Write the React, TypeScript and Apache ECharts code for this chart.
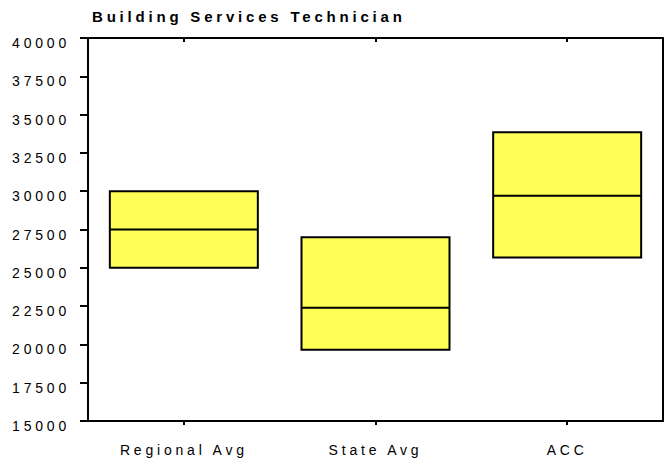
import React, { useEffect, useRef } from "react";
import * as echarts from "echarts";

const title = "Building Services Technician";
const categories = ["Regional Avg", "State Avg", "ACC"];
const lowValues = [25000, 19650, 25670];
const medianValues = [27500, 22400, 29700];
const highValues = [30000, 27000, 33850];
const yMin = 15000;
const yMax = 40000;
const yStep = 2500;

export default function App() {
  const ref = useRef<HTMLDivElement>(null);
  useEffect(() => {
    document.body.style.margin = "0";
    const chart = echarts.init(ref.current!, null, { renderer: "svg" });
    const font = "'Liberation Sans', Arial, sans-serif";
    const boxData = categories.map((_, i) => [
      lowValues[i],
      lowValues[i],
      medianValues[i],
      highValues[i],
      highValues[i],
    ]);
    const axisLine = { show: true, lineStyle: { color: "#000", width: 2 } };
    chart.setOption({
      animation: false,
      backgroundColor: "#fff",
      title: {
        text: title,
        left: 87,
        top: 4,
        textStyle: { fontFamily: font, fontSize: 15, fontWeight: "bold", color: "#000" },
      },
      grid: { left: 88, right: 2, top: 38, bottom: 43, containLabel: false },
      xAxis: [
        {
          type: "category",
          data: categories,
          position: "bottom",
          axisLine,
          axisTick: { show: true, alignWithLabel: true, length: 4, lineStyle: { color: "#000", width: 2 } },
          axisLabel: { color: "#000", fontFamily: font, fontSize: 14, margin: 22 },
          splitLine: { show: false },
        },
        {
          type: "category",
          data: categories,
          position: "top",
          axisLine,
          axisTick: { show: true, inside: true, alignWithLabel: true, length: 4, lineStyle: { color: "#000", width: 2 } },
          axisLabel: { show: false },
          splitLine: { show: false },
        },
      ],
      yAxis: [
        {
          type: "value",
          min: yMin,
          max: yMax,
          interval: yStep,
          position: "left",
          axisLine,
          axisTick: { show: true, length: 8, lineStyle: { color: "#000", width: 2 } },
          axisLabel: {
            color: "#000",
            fontFamily: font,
            fontSize: 14,
            margin: 18,
            verticalAlign: "top",
            lineHeight: 10,
            formatter: (v: number) => String(v),
          },
          splitLine: { show: false },
        },
        {
          type: "value",
          min: yMin,
          max: yMax,
          interval: yStep,
          position: "right",
          axisLine,
          axisTick: { show: false },
          axisLabel: { show: false },
          splitLine: { show: false },
        },
      ],
      series: [
        {
          type: "boxplot",
          xAxisIndex: 0,
          yAxisIndex: 0,
          data: boxData,
          boxWidth: [148, 148],
          itemStyle: { color: "#ffff55", borderColor: "#000", borderWidth: 2 },
          emphasis: { disabled: true },
        },
      ],
    });
    return () => chart.dispose();
  }, []);
  return (
    <div
      ref={ref}
      style={{
        position: "absolute",
        left: 0,
        top: 0,
        width: 665,
        height: 464,
        letterSpacing: "3.8px",
      }}
    />
  );
}
